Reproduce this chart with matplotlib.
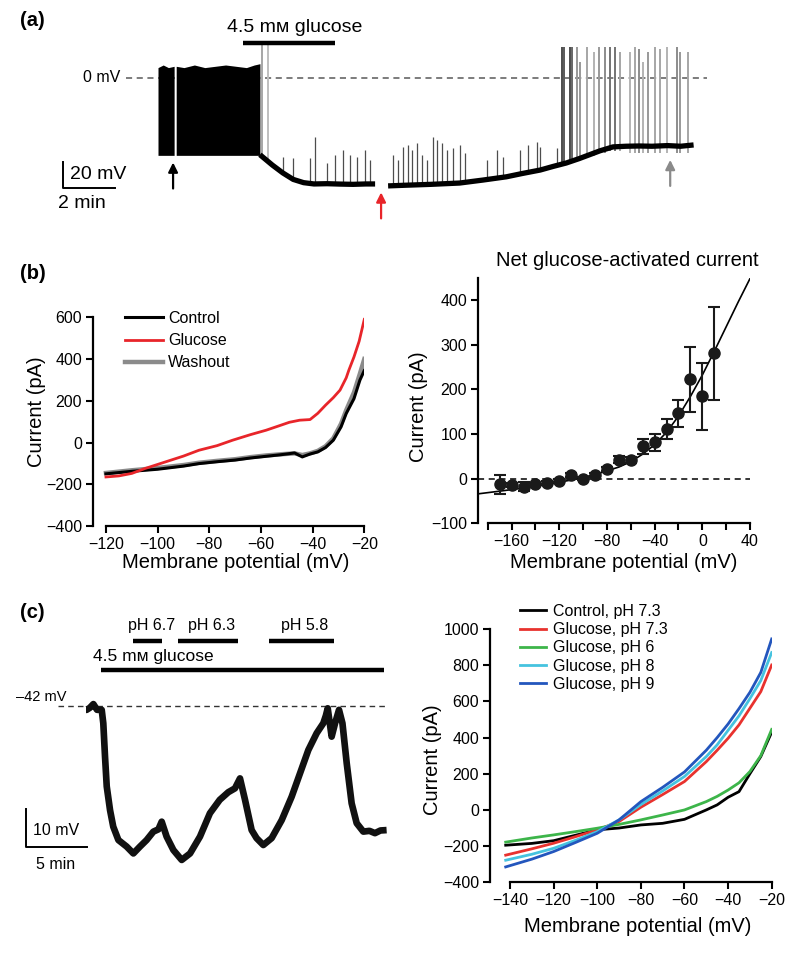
import numpy as np
import matplotlib
matplotlib.use("Agg")
import matplotlib.pyplot as plt

plt.rcParams['font.family'] = ['Liberation Sans', 'DejaVu Sans']
plt.rcParams['axes.unicode_minus'] = True

# ======================= DATA =======================
# (a) current-clamp recording: time (min), membrane potential (mV)
burst1_t = [0.00, 0.20, 0.40, 0.62]
burst1_top = [8, 10, 8, 9]
burst2_t = [0.70, 1.00, 1.40, 1.80, 2.20, 2.60, 3.00, 3.40, 3.70, 3.92]
burst2_top = [9, 8, 10, 8, 9, 10, 9, 8, 10, 11]
burst_floor = -59.5

trace1_t = [3.92, 4.10, 4.40, 4.80, 5.20, 5.60, 6.00, 6.50, 7.00, 7.50, 8.00, 8.35]
trace1_v = [-59, -62, -67, -73, -78, -80.5, -81.5, -81.3, -81.6, -81.8, -81.5, -81.5]
trace2_t = [8.85, 9.50, 10.50, 11.60, 12.50, 13.40, 14.00, 14.70, 15.20, 15.70,
            16.20, 16.60, 17.00, 17.50, 18.00, 18.50, 19.00, 19.60, 20.10, 20.60]
trace2_v = [-83, -82.5, -81.8, -80.8, -78.5, -76, -73.5, -70.8, -68, -65.4,
            -62, -59, -56, -53, -52.5, -52.3, -52.5, -52, -52.5, -51.5]

small_spike_t = [4.81, 5.19, 5.85, 6.04, 6.50, 6.81, 7.12, 7.38, 7.65, 7.96, 8.15,
                 9.04, 9.23, 9.42, 9.62, 9.77, 9.96, 10.15, 10.35, 10.58, 10.73,
                 10.92, 11.12, 11.35, 11.62, 11.81, 12.64, 13.03, 13.27, 13.92,
                 14.24, 14.56, 14.69, 15.33]
small_spike_top = [-60.8, -61.5, -61.5, -45.4, -65.4, -59, -55.4, -59, -60.8, -55.4, -63,
                   -59, -63, -53, -51.5, -55.4, -50, -59, -63, -45.4, -47.7,
                   -50, -55.4, -53.8, -51.5, -57.7, -63, -55.4, -60.8, -55.4,
                   -51.5, -49, -52.8, -54]

tall_spike_t = [4.00, 4.23, 15.54, 15.62, 15.85, 15.92, 16.12, 16.23, 16.50, 16.77,
                16.96, 17.19, 17.38, 17.58, 17.77, 18.15, 18.35, 18.50, 18.65, 18.85,
                19.12, 19.31, 19.58, 19.96, 20.08, 20.38]
tall_spike_top = [27, 27, 24, 24, 24, 24, 24, 12, 24, 20,
                  24, 24, 24, 24, 20, 20, 24, 22, 12, 20,
                  24, 22, 24, 24, 20, 20]
tall_spike_bottom = [-62, -64, -66, -66, -64, -64, -64, -62, -60, -60,
                     -58, -58, -56, -56, -56, -58, -58, -58, -58, -58,
                     -58, -58, -58, -58, -58, -58]
tall_spike_shade = ['0.65', '0.75', '0.30', '0.35', '0.30', '0.40', '0.60', '0.60',
                    '0.65', '0.70', '0.60', '0.55', '0.45', '0.45', '0.65', '0.70',
                    '0.65', '0.55', '0.70', '0.60', '0.65', '0.65', '0.70', '0.55',
                    '0.60', '0.65']

arrow_t = [0.58, 8.58, 19.70]
arrow_head = [-65, -88, -63]
arrow_tail = [-85, -108, -83]
arrow_color = ['black', '#e8252a', '#8a8a8a']

# (b) left: I-V relations
iv_b_v = [-120, -110, -100, -90, -84, -77, -70, -64, -58, -52, -47, -44, -41,
          -38, -35, -32, -29, -27, -24, -21.7, -20]
iv_b_control = [-150, -138, -128, -113, -101, -92, -84, -74, -66, -58, -50, -69, -55,
                -45, -24, 11, 75, 139, 210, 299, 345]
iv_b_washout = [-146, -133, -122, -108, -97, -88, -80, -70, -62, -56, -52, -60, -52,
                -40, -18, 20, 90, 155, 240, 330, 400]
iv_b_glu_v = [-120, -115, -110, -105, -100, -97, -90, -84, -77, -71, -64, -58,
              -53, -49, -45, -41, -38, -35, -32, -29.4, -27, -26, -24, -22, -20]
iv_b_glucose = [-165, -160, -148, -125, -105, -93, -65, -37, -15, 11, 38, 59,
                80, 97, 107, 110, 140, 179, 215, 251, 310, 346, 410, 485, 590]

# (b) right: net glucose-activated current (mean +/- SEM)
net_v = [-170, -160, -150, -140, -130, -120, -110, -100, -90, -80, -70, -60,
         -50, -40, -30, -20, -10, 0, 10]
net_i = [-13, -14, -18, -13, -9, -4.5, 8, 0, 8, 21, 42, 42,
         72, 81, 111, 146, 222, 185, 281]
net_err = [21, 5, 10, 4, 4, 4, 4, 4, 4, 4, 8, 6,
           16, 20, 23, 30, 73, 75, 104]
fit_v = [-188, -170, -150, -130, -110, -90, -70, -60, -50, -40, -30, -20,
         -10, 0, 10, 20, 30, 40]
fit_i = [-34, -28, -21, -13, -3, 9, 26, 38, 55, 76, 104, 140,
         184, 232, 285, 340, 395, 448]

# (c) left: membrane potential with pH steps (time min, mV)
trace_c_t = [0.00, 0.05, 0.30, 0.60, 0.90, 1.28, 1.41, 1.55, 1.69, 1.96, 2.22, 2.64,
             3.31, 3.86, 4.40, 4.94, 5.49, 5.90, 6.17, 6.57, 7.12, 7.80, 8.48, 9.29,
             10.10, 10.90, 11.60, 12.14, 12.55, 12.96, 13.50, 13.90, 14.45, 15.13,
             15.95, 16.76, 17.44, 18.12, 18.80, 19.34, 19.55, 19.70, 20.02, 20.30,
             20.62, 20.90, 21.25, 21.65, 22.06, 22.60, 23.10, 23.55, 24.00, 24.50]
trace_c_v = [-43, -43, -42.5, -41.5, -43, -43, -46.5, -55.2, -63, -69.2, -73.5, -77,
             -78.7, -80.5, -78.7, -77, -74.8, -74.2, -72.2, -76.1, -79.6, -82.2, -80.5,
             -76.1, -70, -66.5, -64.5, -63.5, -60.9, -66.5, -74.4, -76.5, -78.3, -76.5,
             -71.8, -65.7, -59.6, -53.5, -49.1, -46.5, -44.5, -42.6, -50, -46.5,
             -43, -46.5, -57, -67.4, -72.6, -74.8, -74.6, -75.2, -74.5, -74.4]
ph_labels = ['pH 6.7', 'pH 6.3', 'pH 5.8']
ph_start = [3.83, 7.50, 14.90]
ph_end = [6.19, 12.40, 20.20]
glucose_c_start, glucose_c_end = 1.20, 24.30

# (c) right: I-V at different pH
iv_c_v = [-142, -130, -120, -110, -100, -90, -80, -70, -60, -50, -45, -40,
          -35, -30, -25, -20]
iv_c_control = [-195, -185, -170, -140, -110, -100, -83, -74, -52, 0, 28, 70,
                101, 200, 295, 430]
iv_c_glu73 = [-250, -215, -184, -148, -110, -64, 15, 85, 157, 267, 330, 396,
              470, 562, 654, 801]
iv_c_glu6 = [-178, -155, -138, -120, -101, -80, -55, -28, 0, 46, 75, 110,
             150, 212, 300, 445]
iv_c_glu8 = [-278, -245, -212, -168, -120, -55, 30, 105, 185, 295, 360, 440,
             520, 615, 715, 870]
iv_c_glu9 = [-315, -272, -230, -180, -129, -55, 46, 125, 210, 330, 400, 475,
             560, 650, 760, 945]
iv_c_labels = ['Control, pH 7.3', 'Glucose, pH 7.3', 'Glucose, pH 6',
               'Glucose, pH 8', 'Glucose, pH 9']
iv_c_colors = ['black', '#e8322e', '#3db54a', '#45c3df', '#2356bd']

# ======================= FIGURE =======================
W, H = 800, 956
fig = plt.figure(figsize=(W / 100, H / 100), dpi=100)


def add_ax(x0, y0, x1, y1):
    return fig.add_axes([x0 / W, 1 - y1 / H, (x1 - x0) / W, (y1 - y0) / H])


def fpt(x, y):
    return (x / W, 1 - y / H)


TICK = 11.5
LAB = 14.5


def style_axes(ax):
    for s in ['top', 'right']:
        ax.spines[s].set_visible(False)
    for s in ['left', 'bottom']:
        ax.spines[s].set_linewidth(1.6)
    ax.tick_params(direction='out', length=5, width=1.5, labelsize=TICK, pad=3)


# ---------- (a) ----------
ax_a = add_ax(40, 10, 720, 225)
ax_a.set_xlim((40 - 158) / 26, (720 - 158) / 26)
ax_a.set_ylim(-(225 - 78) / 1.3, -(10 - 78) / 1.3)
ax_a.axis('off')

ax_a.plot([-1.23, 21.1], [0, 0], ls=(0, (4, 3)), color='0.35', lw=1.1, zorder=1)
ax_a.text(-1.45, 0, '0 mV', ha='right', va='center', fontsize=11.5)

ax_a.vlines(small_spike_t,
            np.interp(small_spike_t, trace1_t + trace2_t, trace1_v + trace2_v),
            small_spike_top, color='0.3', lw=0.9, zorder=2)
for t, top, bot, sh in zip(tall_spike_t, tall_spike_top, tall_spike_bottom, tall_spike_shade):
    ax_a.vlines(t, bot, top, color=sh, lw=1.4, zorder=2)

ax_a.fill_between(burst1_t, burst_floor, burst1_top, color='black', lw=0, zorder=3)
ax_a.fill_between(burst2_t, burst_floor, burst2_top, color='black', lw=0, zorder=3)
ax_a.plot(trace1_t, trace1_v, color='black', lw=3.8, solid_capstyle='butt', zorder=4)
ax_a.plot(trace2_t, trace2_v, color='black', lw=3.8, solid_capstyle='butt', zorder=4)

for t, h, tl, c in zip(arrow_t, arrow_head, arrow_tail, arrow_color):
    ax_a.annotate('', xy=(t, h), xytext=(t, tl),
                  arrowprops=dict(arrowstyle='-|>', color=c, lw=1.6,
                                  mutation_scale=14, shrinkA=0, shrinkB=0))

# glucose bar
ax_a.plot([3.27, 6.81], [27, 27], color='black', lw=3.2, solid_capstyle='butt')
ax_a.text(5.25, 38.5, '4.5 mм glucose', ha='center', va='center', fontsize=14)
# scale bar
ax_a.plot([-3.65, -3.65, -1.65], [-64.6, -84.6, -84.6], color='black', lw=1.4)
ax_a.text(-3.4, -74.6, '20 mV', ha='left', va='center', fontsize=14)
ax_a.text(-3.85, -96.2, '2 min', ha='left', va='center', fontsize=14)

fig.text(*fpt(20, 20), '(a)', fontsize=14.5, fontweight='bold', ha='left', va='center')

# ---------- (b) left ----------
ax_b1 = add_ax(93.3, 317.3, 364.3, 526)
ax_b1.set_xlim(-124.9, -20)
ax_b1.set_ylim(-400, 600)
style_axes(ax_b1)
ax_b1.spines['bottom'].set_bounds(-120, -20)
ax_b1.set_xticks(np.arange(-120, -19, 20))
ax_b1.set_yticks(np.arange(-400, 601, 200))
ax_b1.plot(iv_b_v, iv_b_control, color='black', lw=2.2, label='Control', zorder=3)
ax_b1.plot(iv_b_glu_v, iv_b_glucose, color='#e8252a', lw=2, label='Glucose', zorder=4)
ax_b1.plot(iv_b_v, iv_b_washout, color='#7f7f7f', lw=3.2, label='Washout', zorder=2, alpha=0.9)
ax_b1.set_xlabel('Membrane potential (mV)', fontsize=LAB, va='center')
ax_b1.xaxis.set_label_coords(*fpt(236, 563), transform=fig.transFigure)
ax_b1.set_ylabel('Current (pA)', fontsize=LAB, va='center')
ax_b1.yaxis.set_label_coords(*fpt(37, 412), transform=fig.transFigure)
leg = ax_b1.legend(loc='upper left', bbox_to_anchor=fpt(125, 311),
                   bbox_transform=fig.transFigure, frameon=False, fontsize=11.5,
                   handlelength=2.4, handletextpad=0.3, labelspacing=0.45,
                   borderpad=0, borderaxespad=0)
fig.text(*fpt(20, 273), '(b)', fontsize=14.5, fontweight='bold', ha='left', va='center')

# ---------- (b) right ----------
ax_b2 = add_ax(478.3, 278.3, 750, 523.3)
ax_b2.set_xlim(-188, 40)
ax_b2.set_ylim(-100, 448.6)
style_axes(ax_b2)
ax_b2.spines['bottom'].set_bounds(-180, 40)
xt = np.arange(-180, 41, 20)
ax_b2.set_xticks(xt)
ax_b2.set_xticklabels([('\u2212%d' % -v if v < 0 else '%d' % v) if v % 40 == 0 else '' for v in xt])
ax_b2.set_yticks(np.arange(-100, 401, 100))
ax_b2.axhline(0, color='black', lw=1.1, ls=(0, (4, 3)), zorder=1)
ax_b2.plot(fit_v, fit_i, color='black', lw=1.2, zorder=2)
ax_b2.errorbar(net_v, net_i, yerr=net_err, fmt='o', color='#1a1a1a', ms=8,
               ecolor='#1a1a1a', elinewidth=1.5, capsize=4, capthick=1.5, zorder=3)
ax_b2.set_xlabel('Membrane potential (mV)', fontsize=LAB, va='center')
ax_b2.xaxis.set_label_coords(*fpt(624, 563), transform=fig.transFigure)
ax_b2.set_ylabel('Current (pA)', fontsize=LAB, va='center')
ax_b2.yaxis.set_label_coords(*fpt(418, 407), transform=fig.transFigure)
fig.text(*fpt(627, 260), 'Net glucose-activated current', fontsize=LAB,
         ha='center', va='center')

# ---------- (c) left ----------
ax_c1 = add_ax(10, 600, 400, 880)
ax_c1.set_xlim((10 - 86) / 12.27, (400 - 86) / 12.27)
ax_c1.set_ylim(-42 - (880 - 706) / 3.83, -42 - (600 - 706) / 3.83)
ax_c1.axis('off')
ax_c1.plot([-2.28, 24.5], [-42, -42], color='0.2', lw=1.0, ls=(0, (4, 3)), zorder=1)
ax_c1.plot(trace_c_t, trace_c_v, color='#111111', lw=4.8, zorder=3,
           solid_joinstyle='round', solid_capstyle='butt')
ax_c1.text(-1.55, -39.6, '\u201342 mV', ha='right', va='center', fontsize=10.5)
for lab, s, e in zip(ph_labels, ph_start, ph_end):
    ax_c1.plot([s, e], [-24.95, -24.95], color='black', lw=3.2, solid_capstyle='butt')
    ax_c1.text((s + e) / 2 + 0.3, -20.9, lab, ha='center', va='center', fontsize=11.5)
ax_c1.plot([glucose_c_start, glucose_c_end], [-32.6, -32.6], color='black', lw=3.2,
           solid_capstyle='butt')
ax_c1.text(0.6, -29.1, '4.5 mм glucose', ha='left', va='center', fontsize=12.5)
ax_c1.plot([-4.89, -4.89, 0.11], [-68.8, -78.8, -78.8], color='black', lw=1.4)
ax_c1.text(-4.32, -74.4, '10 mV', ha='left', va='center', fontsize=11.5)
ax_c1.text(-2.5, -83.5, '5 min', ha='center', va='center', fontsize=11.5)
fig.text(*fpt(20, 613), '(c)', fontsize=14.5, fontweight='bold', ha='left', va='center')

# ---------- (c) right ----------
ax_c2 = add_ax(490, 629, 771.7, 882.3)
ax_c2.set_xlim(-149.2, -20)
ax_c2.set_ylim(-400, 1000)
style_axes(ax_c2)
ax_c2.spines['bottom'].set_bounds(-140, -20)
ax_c2.set_xticks(np.arange(-140, -19, 20))
ax_c2.set_yticks(np.arange(-400, 1001, 200))
for ys, lab, col in zip([iv_c_control, iv_c_glu73, iv_c_glu6, iv_c_glu8, iv_c_glu9],
                        iv_c_labels, iv_c_colors):
    ax_c2.plot(iv_c_v, ys, color=col, lw=2, label=lab)
ax_c2.set_xlabel('Membrane potential (mV)', fontsize=LAB, va='center')
ax_c2.xaxis.set_label_coords(*fpt(638, 927), transform=fig.transFigure)
ax_c2.set_ylabel('Current (pA)', fontsize=LAB, va='center')
ax_c2.yaxis.set_label_coords(*fpt(432, 760), transform=fig.transFigure)
ax_c2.legend(loc='upper left', bbox_to_anchor=fpt(520, 604),
             bbox_transform=fig.transFigure, frameon=False, fontsize=11.5,
             handlelength=1.6, handletextpad=0.45, labelspacing=0.2,
             borderpad=0, borderaxespad=0)

fig.savefig('out.png', dpi=100)
